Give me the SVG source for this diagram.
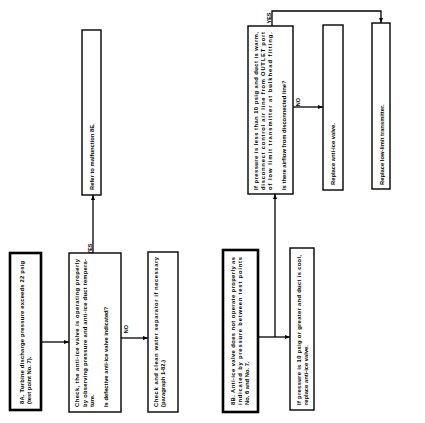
<svg xmlns="http://www.w3.org/2000/svg" width="425" height="423" viewBox="0 0 425 423">
<defs>
<style>
.box{fill:#fff;stroke:#000;stroke-width:1.4}
.thick{fill:#fff;stroke:#000;stroke-width:2.6}
.t{font-family:"Liberation Sans",Arial,sans-serif;font-size:5.8px;font-weight:bold;fill:#000}
.lbl{font-family:"Liberation Sans",Arial,sans-serif;font-size:5.5px;font-weight:bold;fill:#000}
.c{fill:none;stroke:#000;stroke-width:1.3}
</style>
<marker id="ah" viewBox="0 0 10 10" refX="10" refY="5" markerWidth="5" markerHeight="5" orient="auto" markerUnits="userSpaceOnUse">
<path d="M0,1 L10,5 L0,9 z" fill="#000"/>
</marker>
</defs>
<rect width="425" height="423" fill="#fff"/>

<g id="connectors">
<path class="c" d="M41,342 H69" marker-end="url(#ah)"/>
<path class="c" d="M93,253 V195" marker-end="url(#ah)"/>
<path class="c" d="M121,338 H148" marker-end="url(#ah)"/>
<path class="c" d="M258,337 H290" marker-end="url(#ah)"/>
<path class="c" d="M275,337 V194" marker-end="url(#ah)"/>
<path class="c" d="M293,107 H323" marker-end="url(#ah)"/>
<path class="c" d="M272,26 V11 H381 V23" marker-end="url(#ah)"/>
<text class="lbl" transform="translate(91.5,249) rotate(-90)" text-anchor="middle">YES</text>
<text class="lbl" transform="translate(128,329) rotate(-90)" text-anchor="middle">NO</text>
<text class="lbl" transform="translate(270.5,18) rotate(-90)" text-anchor="middle">YES</text>
<text class="lbl" transform="translate(299.5,102) rotate(-90)" text-anchor="middle">NO</text>
</g>

<g id="n8A">
<rect class="thick" x="10" y="253" width="31" height="157"/>
<text class="t" transform="translate(23.5,404) rotate(-90)" textLength="143" lengthAdjust="spacing">8A. Turbine discharge pressure exceeds 22 psig</text>
<text class="t" transform="translate(31,404) rotate(-90)">(test point No. 7).</text>
</g>

<g id="check">
<rect class="box" x="69" y="253" width="52" height="159"/>
<text class="t" transform="translate(79,407) rotate(-90)" textLength="148" lengthAdjust="spacing">Check, the anti-ice valve is operating properly</text>
<text class="t" transform="translate(86.5,407) rotate(-90)" textLength="148" lengthAdjust="spacing">by observing pressure and anti-ice duct tempera-</text>
<text class="t" transform="translate(94,407) rotate(-90)">ture.</text>
<text class="t" transform="translate(108,407) rotate(-90)">Is defective anti-ice valve indicated?</text>
</g>

<g id="refer">
<rect class="box" x="82" y="30" width="19" height="165"/>
<text class="t" transform="translate(93.8,190) rotate(-90)">Refer to malfunction 8E.</text>
</g>

<g id="water">
<rect class="box" x="148" y="252" width="30" height="160"/>
<text class="t" transform="translate(158,407) rotate(-90)" textLength="150" lengthAdjust="spacing">Check and clean water separator if necessary</text>
<text class="t" transform="translate(165,407) rotate(-90)">(paragraph 1-82.)</text>
</g>

<g id="n8B">
<rect class="thick" x="223" y="250" width="35" height="162"/>
<text class="t" transform="translate(235,405) rotate(-90)" textLength="148" lengthAdjust="spacing">8B. Anti-ice valve does not operate properly as</text>
<text class="t" transform="translate(242,405) rotate(-90)" textLength="148" lengthAdjust="spacing">indicated by pressure between test points</text>
<text class="t" transform="translate(249,405) rotate(-90)">No. 6 and No. 7.</text>
</g>

<g id="lowerIf">
<rect class="box" x="290" y="248" width="24" height="162"/>
<text class="t" transform="translate(301,405) rotate(-90)" textLength="150" lengthAdjust="spacing">If pressure is 10 psig or greater and duct is cool,</text>
<text class="t" transform="translate(308,405) rotate(-90)">replace anti-ice valve.</text>
</g>

<g id="upperIf">
<rect class="box" x="248" y="26" width="45" height="168"/>
<text class="t" transform="translate(258,190) rotate(-90)" textLength="158" lengthAdjust="spacing">If pressure is less than 10 psig and duct is warm,</text>
<text class="t" transform="translate(265,190) rotate(-90)" textLength="158" lengthAdjust="spacing">disconnect control air line from OUTLET port</text>
<text class="t" transform="translate(272,190) rotate(-90)" textLength="158" lengthAdjust="spacing">of low limit transmitter at bulkhead fitting.</text>
<text class="t" transform="translate(286,190) rotate(-90)">Is there airflow from disconnected line?</text>
</g>

<g id="valve">
<rect class="box" x="323" y="25" width="20" height="165"/>
<text class="t" transform="translate(335,185) rotate(-90)">Replace anti-ice valve.</text>
</g>

<g id="transmitter">
<rect class="box" x="372" y="23" width="18" height="166"/>
<text class="t" transform="translate(383.5,185) rotate(-90)">Replace low-limit transmitter.</text>
</g>
</svg>
